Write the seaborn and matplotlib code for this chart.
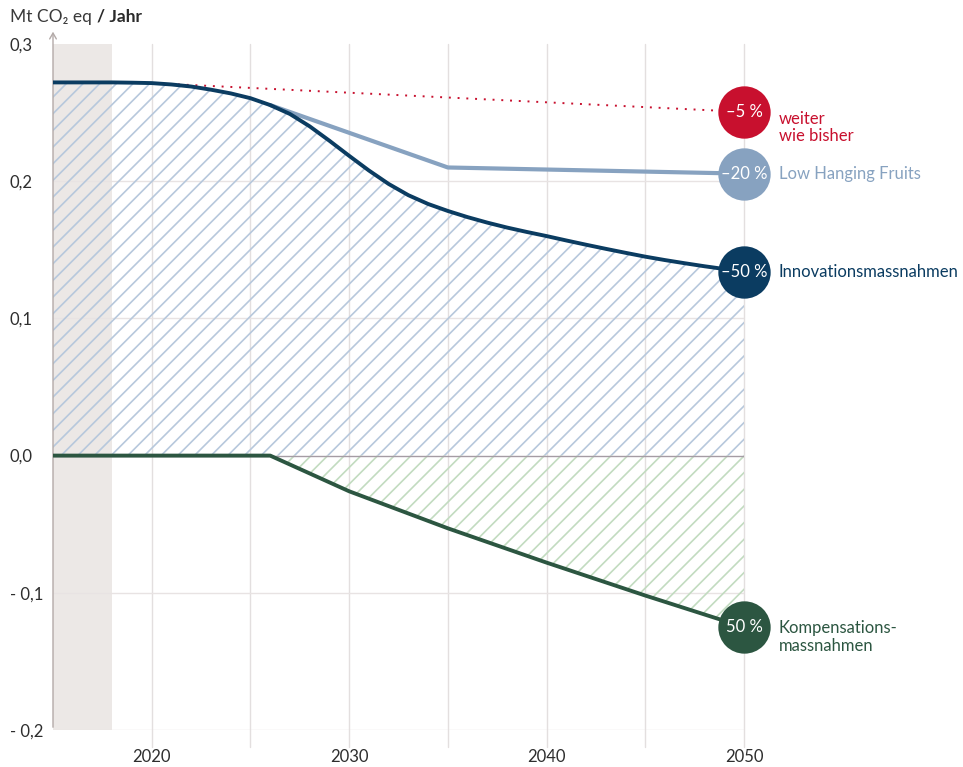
import matplotlib
matplotlib.use("Agg")
import numpy as np
import pandas as pd
from matplotlib import pyplot as plt
import seaborn as sns

# --- data ---
years = list(range(2015, 2051))
innovation = [0.272, 0.272, 0.272, 0.272, 0.2718, 0.2715, 0.2705, 0.269,
              0.2667, 0.2640, 0.2605, 0.2555, 0.2490, 0.2400, 0.2295, 0.2185,
              0.2078, 0.1980, 0.1898, 0.1834, 0.1783, 0.1738, 0.1698, 0.1662,
              0.1630, 0.1600, 0.1568, 0.1537, 0.1507, 0.1478, 0.1450, 0.1425,
              0.1402, 0.1380, 0.1360, 0.1340]

low_hanging_years = [2026, 2035, 2050]
low_hanging = [0.2555, 0.210, 0.2055]

bau_years = [2020, 2050]
bau = [0.2715, 0.2505]

comp_years = [2015, 2026, 2030, 2035, 2040, 2045, 2050]
compensation = [0.0, 0.0, -0.026, -0.053, -0.078, -0.102, -0.125]

end_values = [0.2505, 0.2055, 0.134, -0.125]
end_pcts = ["–5 %", "–20 %", "–50 %", "50 %"]
end_labels = ["weiter\nwie bisher", "Low Hanging Fruits",
              "Innovationsmassnahmen", "Kompensations-\nmassnahmen"]

y_ticks = [0.3, 0.2, 0.1, 0.0, -0.1, -0.2]
y_ticklabels = ["0,3", "0,2", "0,1", "0,0", "- 0,1", "- 0,2"]
x_ticks = [2020, 2030, 2040, 2050]
x_gridlines = [2020, 2025, 2030, 2035, 2040, 2045, 2050]

RED = "#c8102e"
LIGHT = "#87a2c0"
DARK = "#0b3c61"
GREEN = "#2c5641"
colors = [RED, LIGHT, DARK, GREEN]

sns.set_theme(style="white")
plt.rcParams["font.family"] = ["Lato", "DejaVu Sans"]
plt.rcParams["hatch.linewidth"] = 1.2

fig = plt.figure(figsize=(9.63, 7.67), dpi=100)
ax = fig.add_axes([53 / 963, 1 - 730 / 767, (744 - 53) / 963, (730 - 44) / 767])
ax.set_xlim(2015, 2050)
ax.set_ylim(-0.2, 0.3)
for s in ax.spines.values():
    s.set_visible(False)

# historic band
ax.axvspan(2015, 2018, color="#ece8e6", lw=0, zorder=0)

# grid
for x in x_gridlines:
    ax.axvline(x, ymin=-0.025, ymax=1, color="#e3dfdf", lw=1, clip_on=False, zorder=1)
for y in [0.2, 0.1, -0.1, -0.2]:
    ax.axhline(y, color="#e8e3e3", lw=1, zorder=1)
ax.axhline(0, color="#a59ca4", lw=1, zorder=3)

# y axis with arrow
ax.annotate("", xy=(2015, 0.311), xytext=(2015, -0.2),
            arrowprops=dict(arrowstyle="->,head_length=0.35,head_width=0.2",
                            color="#b3aaa8", lw=1),
            annotation_clip=False, zorder=4)

# hatched areas
ax.fill_between(years, 0, innovation, facecolor="none", edgecolor="#b7c8dc",
                hatch="//", lw=0, zorder=2)
ax.fill_between(comp_years[1:], compensation[1:], 0, facecolor="none",
                edgecolor="#c2dbc0", hatch="//", lw=0, zorder=2)

# lines
ax.plot(bau_years, bau, color=RED, lw=1.4, ls=(0, (1, 3.5)), zorder=4)
sns.lineplot(x=low_hanging_years, y=low_hanging, color=LIGHT, lw=3, ax=ax, zorder=5)
sns.lineplot(x=years, y=innovation, color=DARK, lw=2.8, ax=ax, zorder=6)
sns.lineplot(x=comp_years, y=compensation, color=GREEN, lw=2.8, ax=ax, zorder=6)

# end markers and labels
text_offsets = [(25, 1), (25, 0), (25, 0), (25, 5)]
for v, pct, lab, c, off in zip(end_values, end_pcts, end_labels, colors, text_offsets):
    ax.scatter([2050], [v], s=1420, color=c, zorder=7, clip_on=False, lw=0)
    ax.text(2050, v, pct, color="white", fontsize=12, ha="center",
            va="center", zorder=8)
    va = "top" if "\n" in lab else "center"
    ax.annotate(lab, xy=(2050, v), xytext=off, textcoords="offset points",
                color=c, fontsize=12, ha="left", va=va, linespacing=1.15,
                annotation_clip=False)

# ticks
ax.set_yticks(y_ticks)
ax.set_yticklabels(y_ticklabels, ha="left")
ax.set_xticks(x_ticks)
ax.set_xticklabels([str(x) for x in x_ticks])
ax.tick_params(axis="y", length=0, pad=31, labelsize=12, labelcolor="#2e2e2e")
ax.tick_params(axis="x", length=0, pad=14, labelsize=12, labelcolor="#2e2e2e")
ax.set_xlabel("")
ax.set_ylabel("")

# unit label
t1 = fig.text(10 / 963, 1 - 17 / 767, "Mt CO₂ eq", fontsize=12.5,
              color="#3a3a3a", va="center", ha="left")
ax.annotate("/ Jahr", xy=(1, 0.5), xycoords=t1, xytext=(4, 0),
            textcoords="offset points", va="center", ha="left",
            fontsize=12.5, color="#2a2a2a", fontweight="bold",
            annotation_clip=False)

fig.savefig("out.png", dpi=100)
